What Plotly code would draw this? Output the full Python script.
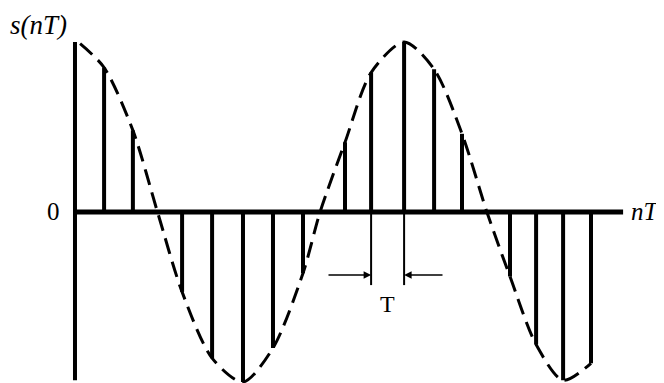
import plotly.graph_objects as go

# sample instants (in units of T) and sample values s(nT)
n_pos = [0.97, 1.93, 3.57, 4.57, 5.6, 6.6, 7.6, 9.0, 9.87, 10.97, 11.97, 12.9, 14.5, 15.37, 16.27, 17.2]
s_val = [0.85, 0.48, -0.47, -0.86, -1.0, -0.80, -0.36, 0.41, 0.82, 1.0, 0.84, 0.46, -0.38, -0.78, -0.99, -0.89]

# continuous (dashed) envelope
curve_x = [0.17, 0.97, 1.93, 2.75, 3.57, 4.57, 5.6, 6.6, 7.6, 8.17, 9.0, 9.87, 10.97, 11.97, 12.9, 13.73, 14.5, 15.37, 16.27, 17.2]
curve_y = [0.99, 0.85, 0.48, 0.0, -0.47, -0.86, -1.0, -0.80, -0.36, 0.0, 0.41, 0.82, 1.0, 0.84, 0.46, 0.0, -0.38, -0.78, -0.99, -0.89]

serif = "Liberation Serif, Times New Roman, serif"

fig = go.Figure()

# dashed envelope
fig.add_trace(go.Scatter(x=curve_x, y=curve_y, mode="lines",
                         line=dict(color="black", width=3, dash="16px,8px", shape="spline", smoothing=0.8),
                         hoverinfo="skip", showlegend=False))

# stems
sx, sy = [], []
for x, y in zip(n_pos, s_val):
    sx += [x, x, None]
    sy += [0, y, None]
fig.add_trace(go.Scatter(x=sx, y=sy, mode="lines", line=dict(color="black", width=4),
                         hoverinfo="skip", showlegend=False))

# axes
fig.add_shape(type="line", x0=0, x1=0, y0=1.0, y1=-0.99, line=dict(color="black", width=4))
fig.add_shape(type="line", x0=0, x1=18.27, y0=0, y1=0, line=dict(color="black", width=5))

# T marker: extension lines under samples 9.87 and 10.97
t0, t1 = n_pos[8], n_pos[9]
for xv in (t0, t1):
    fig.add_shape(type="line", x0=xv, x1=xv, y0=0, y1=-0.43, line=dict(color="black", width=2))

fig.add_annotation(x=t0, y=-0.37, ax=t0 - 1.47, ay=-0.37, xref="x", yref="y", axref="x", ayref="y",
                   showarrow=True, arrowhead=2, arrowsize=1, arrowwidth=1.5, arrowcolor="black", text="")
fig.add_annotation(x=t1, y=-0.37, ax=t1 + 1.33, ay=-0.37, xref="x", yref="y", axref="x", ayref="y",
                   showarrow=True, arrowhead=2, arrowsize=1, arrowwidth=1.5, arrowcolor="black", text="")

fig.add_annotation(x=(t0 + t1) / 2, y=-0.54, text="T", showarrow=False,
                   font=dict(family=serif, size=24, color="black"))
fig.add_annotation(x=-1.23, y=1.1, text="<i>s(nT)</i>", showarrow=False,
                   font=dict(family=serif, size=27, color="black"))
fig.add_annotation(x=-0.7, y=0.0, text="0", showarrow=False,
                   font=dict(family=serif, size=25, color="black"))
fig.add_annotation(x=19.0, y=0.0, text="<i>nT</i>", showarrow=False,
                   font=dict(family=serif, size=25, color="black"))

# page body has an 8px default margin, so the ranges are offset to match the reference
fig.update_layout(
    width=664, height=383,
    margin=dict(l=0, r=0, t=0, b=0),
    paper_bgcolor="white", plot_bgcolor="white",
    xaxis=dict(range=[-2.233, 19.9], visible=False, fixedrange=True),
    yaxis=dict(range=[-1.053, 1.2], visible=False, fixedrange=True),
    showlegend=False,
)

fig.write_html("out.html")
